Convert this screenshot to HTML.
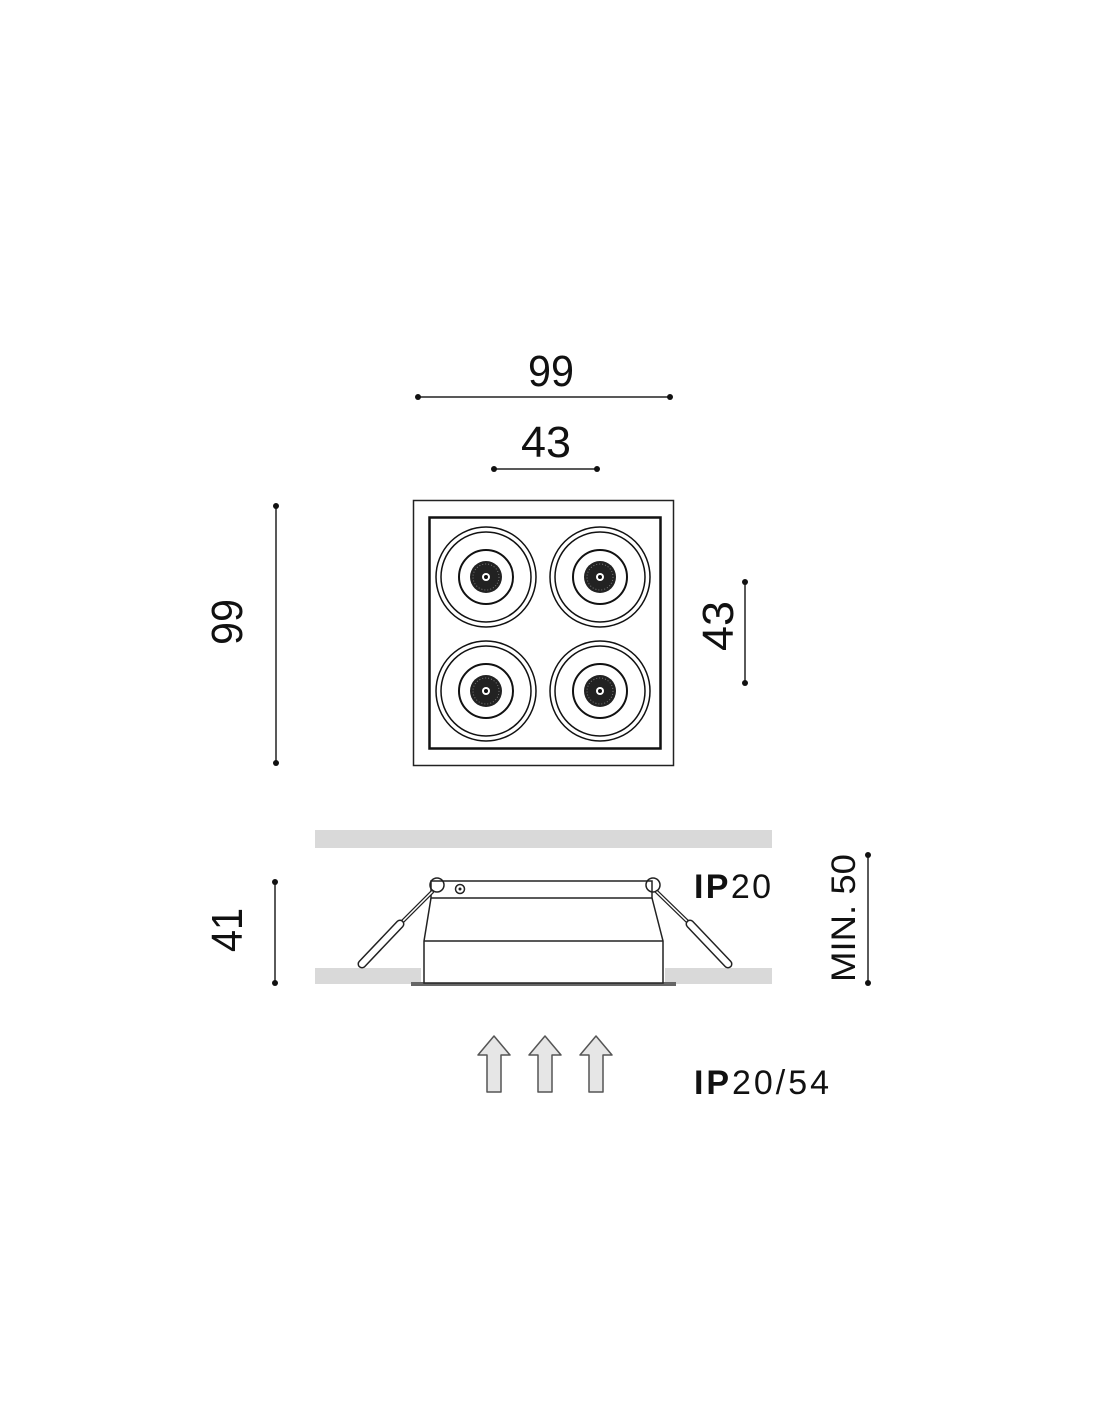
<!DOCTYPE html>
<html><head><meta charset="utf-8"><style>html,body{margin:0;padding:0;background:#fff}svg{display:block}</style></head>
<body>
<svg width="1100" height="1422" viewBox="0 0 1100 1422" xmlns="http://www.w3.org/2000/svg" font-family="Liberation Sans, sans-serif">
<defs>
<g id="lens">
<circle r="50" fill="none" stroke="#111" stroke-width="1.5"/>
<circle r="45" fill="none" stroke="#111" stroke-width="1.5"/>
<circle r="27" fill="none" stroke="#111" stroke-width="2"/>
<circle r="16" fill="#222"/>
<circle r="13" fill="none" stroke="#777" stroke-width="1" stroke-dasharray="1 2"/>
<circle r="4" fill="#fff"/>
<circle r="2" fill="#111"/>
</g>
<g id="arrow">
<path d="M0,0 L16,19 L7,19 L7,56 L-7,56 L-7,19 L-16,19 Z" fill="#e6e6e6" stroke="#555" stroke-width="1.5" stroke-linejoin="round"/>
</g>
</defs>
<line x1="418" y1="397" x2="670" y2="397" stroke="#222" stroke-width="1.5"/>
<circle cx="418" cy="397" r="3" fill="#111"/><circle cx="670" cy="397" r="3" fill="#111"/>
<text x="551" y="386" font-size="44" text-anchor="middle" fill="#111" textLength="46" lengthAdjust="spacingAndGlyphs">99</text>
<line x1="494" y1="469" x2="597" y2="469" stroke="#222" stroke-width="1.5"/>
<circle cx="494" cy="469" r="3" fill="#111"/><circle cx="597" cy="469" r="3" fill="#111"/>
<text x="546" y="457" font-size="44" text-anchor="middle" fill="#111" textLength="50" lengthAdjust="spacingAndGlyphs">43</text>
<line x1="276" y1="506" x2="276" y2="763" stroke="#222" stroke-width="1.5"/>
<circle cx="276" cy="506" r="3" fill="#111"/><circle cx="276" cy="763" r="3" fill="#111"/>
<text transform="translate(242,622) rotate(-90)" font-size="44" text-anchor="middle" fill="#111" textLength="46" lengthAdjust="spacingAndGlyphs">99</text>
<line x1="745" y1="582" x2="745" y2="683" stroke="#222" stroke-width="1.5"/>
<circle cx="745" cy="582" r="3" fill="#111"/><circle cx="745" cy="683" r="3" fill="#111"/>
<text transform="translate(733,626) rotate(-90)" font-size="44" text-anchor="middle" fill="#111" textLength="50" lengthAdjust="spacingAndGlyphs">43</text>
<rect x="413.5" y="500.5" width="260" height="265" fill="#fff" stroke="#222" stroke-width="1.5"/>
<rect x="429.5" y="517.5" width="231" height="231" fill="#fff" stroke="#111" stroke-width="2.5"/>
<use href="#lens" x="486" y="577"/><use href="#lens" x="600" y="577"/>
<use href="#lens" x="486" y="691"/><use href="#lens" x="600" y="691"/>
<rect x="315" y="830" width="457" height="18" fill="#d9d9d9"/>
<rect x="315" y="968" width="106" height="16" fill="#d9d9d9"/>
<rect x="665" y="968" width="107" height="16" fill="#d9d9d9"/>
<rect x="411" y="982" width="265" height="4" fill="#666"/>
<path d="M431,898 L424,941 L424,983 L663,983 L663,941 L652,898" fill="#fff" stroke="#222" stroke-width="1.5"/>
<line x1="424" y1="941" x2="663" y2="941" stroke="#222" stroke-width="1.5"/>
<rect x="431" y="881" width="221" height="17" fill="#fff" stroke="#222" stroke-width="1.5"/>
<circle cx="460" cy="889" r="4.5" fill="none" stroke="#222" stroke-width="1.5"/><circle cx="460" cy="889" r="1.5" fill="#222"/>
<circle cx="437" cy="885" r="7" fill="none" stroke="#222" stroke-width="1.5"/>
<circle cx="653" cy="885" r="7" fill="none" stroke="#222" stroke-width="1.5"/>
<path d="M432,892 L400,924" stroke="#222" stroke-width="4" stroke-linecap="round"/>
<path d="M432,892 L400,924" stroke="#fff" stroke-width="1.5" stroke-linecap="round"/>
<path d="M400,924 L362,964" stroke="#222" stroke-width="9" stroke-linecap="round"/>
<path d="M400,924 L362,964" stroke="#fff" stroke-width="6" stroke-linecap="round"/>
<path d="M657,892 L690,924" stroke="#222" stroke-width="4" stroke-linecap="round"/>
<path d="M657,892 L690,924" stroke="#fff" stroke-width="1.5" stroke-linecap="round"/>
<path d="M690,924 L728,964" stroke="#222" stroke-width="9" stroke-linecap="round"/>
<path d="M690,924 L728,964" stroke="#fff" stroke-width="6" stroke-linecap="round"/>
<text x="694" y="898" font-size="34" fill="#111" textLength="77" lengthAdjust="spacing"><tspan font-weight="bold">IP</tspan>20</text>
<line x1="275" y1="882" x2="275" y2="983" stroke="#222" stroke-width="1.5"/>
<circle cx="275" cy="882" r="3" fill="#111"/><circle cx="275" cy="983" r="3" fill="#111"/>
<text transform="translate(242,930) rotate(-90)" font-size="44" text-anchor="middle" fill="#111" textLength="44" lengthAdjust="spacingAndGlyphs">41</text>
<line x1="868" y1="855" x2="868" y2="983" stroke="#222" stroke-width="1.5"/>
<circle cx="868" cy="855" r="3" fill="#111"/><circle cx="868" cy="983" r="3" fill="#111"/>
<text transform="translate(855,918) rotate(-90)" font-size="34" text-anchor="middle" fill="#111" textLength="128" lengthAdjust="spacingAndGlyphs">MIN. 50</text>
<use href="#arrow" x="494" y="1036"/><use href="#arrow" x="545" y="1036"/><use href="#arrow" x="596" y="1036"/>
<text x="694" y="1094" font-size="34" fill="#111" textLength="135" lengthAdjust="spacing"><tspan font-weight="bold">IP</tspan>20/54</text>
</svg>
</body></html>
